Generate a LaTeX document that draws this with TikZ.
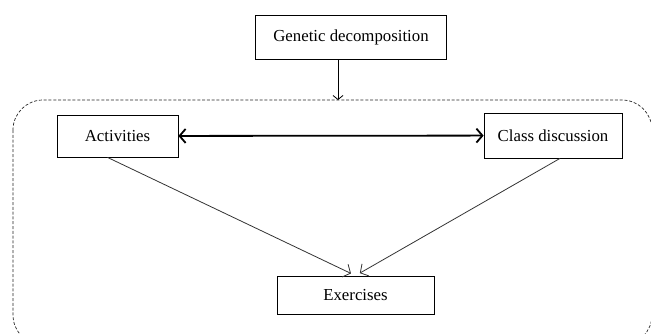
\documentclass[tikz,border=0pt]{standalone}
\usepackage{fontspec}
\setmainfont{Liberation Serif}
\usetikzlibrary{arrows.meta}
\begin{document}
\begin{tikzpicture}[x=1pt,y=-1pt]
    \tikzstyle{box}=[
      rectangle,
      draw=black,
      anchor=center,
      line width=0.8pt,
      inner sep=0pt,
      font=\fontsize{16.8}{19}\selectfont,
    ]
    \tikzstyle{dedge} = [line width=1.8pt,{Straight Barb[length=6pt,width=14pt]}-{Straight Barb[length=6pt,width=14pt]},draw=black]
    \tikzstyle{tedge} = [line width=0.8pt,-{Straight Barb[length=6pt,width=14pt]},draw=black!80]

    \useasboundingbox (0,0) rectangle (651,333);
    \clip (0,0) rectangle (651,333);

    % dashed frame round the lower part
    \draw[dash pattern=on 3pt off 1.8pt,line width=0.7pt,draw=black!85,rounded corners=30pt] (13,100) rectangle (652,345);
    \coordinate (top) at (338,100);

    \node[box,minimum width=191pt,minimum height=44pt] (gen) at (351,37) {Genetic decomposition};
    \node[box,minimum width=121pt,minimum height=42pt] (act) at (117.5,136) {Activities};
    \node[box,minimum width=138pt,minimum height=45pt] (cls) at (553,135.5) {Class discussion};
    \node[box,minimum width=157pt,minimum height=38pt] (exe) at (355.5,295) {Exercises};

    \draw[line width=0.8pt,-{Straight Barb[length=4pt,width=10pt]}] (gen.south -| top)--(top);
    \draw[dedge] (act)--(cls);
    \draw[tedge,shorten >=5pt] ([xshift=-10pt]act.south)--(exe.north);
    \draw[tedge,shorten >=5pt] ([xshift=7pt]cls.south)--(exe.north);
\end{tikzpicture}
\end{document}
